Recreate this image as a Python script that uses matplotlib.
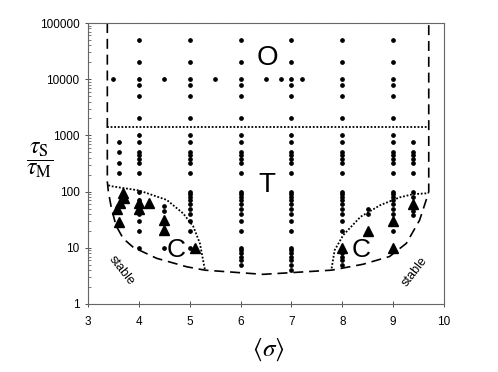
import matplotlib
matplotlib.use("Agg")
import matplotlib.pyplot as plt
from matplotlib.ticker import FixedLocator, LogLocator, NullFormatter

plt.rcParams['font.family'] = ['Liberation Sans', 'DejaVu Sans']
plt.rcParams['mathtext.fontset'] = 'stix'

# dots in the "O" region
o_cols = [4, 5, 6, 7, 8, 9]
o_levels = [50000, 20000, 10000, 8000, 5000, 2000]
o_extra_x = [3.5, 4.5, 5.5, 6.5, 6.8, 7.2]
o_extra_y = 10000

# dots in the "T" region, columns 4..9
t_levels = [1000, 750, 500, 440, 380, 320, 210]
col36 = [750, 500, 320, 210]
col94_top = [750, 500, 440, 380, 320, 210]

# lower dots per column
col4_low = [100, 70, 60, 50, 40, 30, 20, 10]
col45_low = [55, 45, 10]
col5_low = [100, 90, 80, 70, 60, 50, 40, 30, 20, 10]
col6_low = [100, 90, 80, 70, 60, 50, 40, 30, 20, 10, 9, 8, 7, 6, 5]
col7_low = [100, 90, 80, 70, 60, 50, 40, 30, 20, 10, 9, 8, 7, 6, 5, 4]
col8_low = [100, 90, 80, 70, 60, 50, 40, 30, 20, 9, 8, 7, 6, 5]
col85_low = [50, 40]
col9_low = [100, 90, 80, 70, 60, 50, 40, 20]
col94_low = [100, 80, 45, 38]

# triangles
tri_x = [3.68, 3.71, 3.63, 3.58, 3.60, 4.0, 4.0, 4.2, 4.5, 4.5, 5.1, 8.0, 8.5, 9.0, 9.0, 9.4]
tri_y = [93, 76, 62, 50, 29, 62, 50, 62, 31, 21, 10, 10, 20, 30, 10, 60]

# dashed stability boundary
bnd_x = [3.38, 3.38, 3.40, 3.46, 3.55, 3.69, 3.89, 4.35, 4.94, 5.3, 6.0, 6.44, 6.97,
         7.79, 8.41, 8.93, 9.26, 9.52, 9.65, 9.70, 9.70]
bnd_y = [100000, 150, 100, 51, 25, 14.7, 10.2, 6.5, 4.6, 4.0, 3.6, 3.37, 3.6,
         4.0, 5.1, 7.0, 12, 31, 71, 100, 100000]

# dotted curves
cl_x = [3.40, 3.45, 4.0, 4.55, 4.87, 5.07, 5.2, 5.3]
cl_y = [130, 125, 105, 71, 41, 24, 12, 4.0]
cr_x = [7.79, 7.85, 8.02, 8.36, 8.75, 9.13, 9.39, 9.65]
cr_y = [4.3, 9.1, 16.9, 35.7, 57.6, 79, 90, 93]
ot_x = [3.38, 9.70]
ot_y = [1400, 1400]

fig = plt.figure(figsize=(4.98, 3.72), dpi=100)
ax = fig.add_axes([88/498, 1-304/372, 356/498, 281/372])

dot = dict(color='k', marker='o', ms=2.4, ls='none')
for c in o_cols:
    ax.plot([c]*len(o_levels), o_levels, **dot)
    ax.plot([c]*len(t_levels), t_levels, **dot)
ax.plot(o_extra_x, [o_extra_y]*len(o_extra_x), **dot)
ax.plot([3.6]*len(col36), col36, **dot)
ax.plot([9.4]*len(col94_top), col94_top, **dot)
for c, vals in [(4, col4_low), (4.5, col45_low), (5, col5_low), (6, col6_low),
                (7, col7_low), (8, col8_low), (8.5, col85_low), (9, col9_low),
                (9.4, col94_low)]:
    ax.plot([c]*len(vals), vals, **dot)

ax.plot(tri_x, tri_y, color='k', marker='^', ms=7.5, ls='none')

ax.plot(bnd_x, bnd_y, color='k', lw=1.2, ls=(0, (6, 3.5)))
ax.plot(cl_x, cl_y, color='k', lw=1.3, ls=(0, (1, 1)))
ax.plot(cr_x, cr_y, color='k', lw=1.3, ls=(0, (1, 1)))
ax.plot(ot_x, ot_y, color='k', lw=1.3, ls=(0, (1, 1)))

ax.text(6.53, 24000, 'O', fontsize=20, ha='center', va='center')
ax.text(6.51, 130, 'T', fontsize=20, ha='center', va='center')
ax.text(4.74, 9.1, 'C', fontsize=19, ha='center', va='center')
ax.text(8.37, 9.1, 'C', fontsize=19, ha='center', va='center')
ax.text(3.66, 4.0, 'stable', fontsize=9, rotation=-52, ha='center', va='center')
ax.text(9.42, 3.8, 'stable', fontsize=9, rotation=52, ha='center', va='center')

ax.set_yscale('log')
ax.set_xlim(3, 10)
ax.set_ylim(1, 100000)
ax.xaxis.set_major_locator(FixedLocator([3, 4, 5, 6, 7, 8, 9, 10]))
ax.set_yticks([1, 10, 100, 1000, 10000, 100000])
ax.set_yticklabels(['1', '10', '100', '1000', '10000', '100000'])
ax.yaxis.set_minor_locator(LogLocator(base=10, subs=range(2, 10), numticks=20))
ax.yaxis.set_minor_formatter(NullFormatter())
ax.tick_params(axis='both', which='major', labelsize=8.5, direction='inout', length=5, width=0.7, color='0.3')
ax.tick_params(axis='y', which='minor', direction='in', length=2, width=0.6, color='0.4')
ax.tick_params(axis='x', pad=6)
for s in ax.spines.values():
    s.set_color('0.4')
    s.set_linewidth(0.8)
    s.set_linestyle((0, (1, 0.6)))

fig.text(40/498, 1-160/372, r'$\dfrac{\tau_{\mathrm{S}}}{\tau_{\mathrm{M}}}$', fontsize=17,
         ha='center', va='center')
fig.text(268/498, 1-350/372, r'$\langle\sigma\rangle$', fontsize=18, ha='center', va='center')

fig.savefig('out.png', dpi=100)
